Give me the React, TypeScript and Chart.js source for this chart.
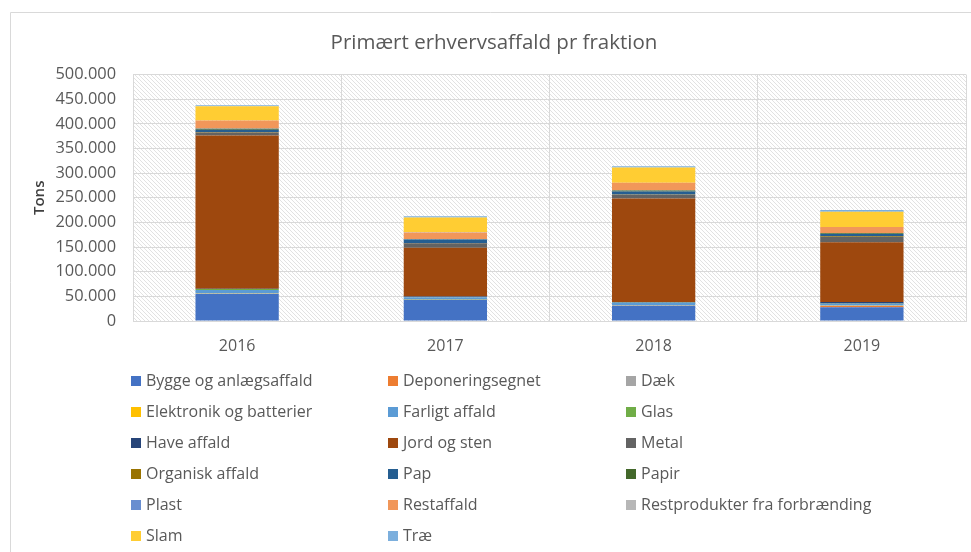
import React, { useEffect, useRef } from "react";
import { Chart, registerables } from "chart.js";

Chart.register(...registerables);

const categories = ["2016", "2017", "2018", "2019"];
const titleText = "Primært erhvervsaffald pr fraktion";
const yTitle = "Tons";
const yTicks = [0, 50000, 100000, 150000, 200000, 250000, 300000, 350000, 400000, 450000, 500000];

const bygge = [55000, 42500, 31000, 27700];
const deponering = [0, 0, 0, 2700];
const daek = [300, 300, 300, 300];
const elektronik = [500, 500, 500, 500];
const farligt = [7000, 5000, 5000, 4000];
const glas = [2000, 500, 500, 500];
const have = [500, 1000, 1500, 3000];
const jord = [311000, 99000, 210000, 121000];
const metal = [6000, 9000, 7500, 11500];
const organisk = [1000, 500, 500, 1500];
const pap = [5000, 7000, 6000, 4000];
const papir = [2000, 500, 2000, 1500];
const plast = [500, 500, 500, 500];
const restaffald = [16000, 13500, 15000, 12000];
const restprodukter = [0, 1000, 0, 0];
const slam = [29000, 29000, 31000, 31000];
const trae = [2000, 3000, 2500, 3500];

const seriesNames = [
  "Bygge og anlægsaffald", "Deponeringsegnet", "Dæk",
  "Elektronik og batterier", "Farligt affald", "Glas",
  "Have affald", "Jord og sten", "Metal",
  "Organisk affald", "Pap", "Papir",
  "Plast", "Restaffald", "Restprodukter fra forbrænding",
  "Slam", "Træ",
];
const seriesValues = [
  bygge, deponering, daek, elektronik, farligt, glas, have, jord, metal,
  organisk, pap, papir, plast, restaffald, restprodukter, slam, trae,
];
const seriesColors = [
  "#4472C4", "#ED7D31", "#A5A5A5", "#FFC000", "#5B9BD5", "#70AD47",
  "#264478", "#9E480E", "#636363", "#997300", "#255E91", "#43682B",
  "#698ED0", "#F1975A", "#B7B7B7", "#FFCD33", "#7CAFDD",
];

const FONT = "'Open Sans', 'Noto Sans', sans-serif";
const TEXT = "#595959";
const GRID = "#d9d9d9";

function fmt(v: number): string {
  const s = Math.round(v).toString();
  return s.replace(/\B(?=(\d{3})+(?!\d))/g, ".");
}

const decorPlugin = {
  id: "decor",
  beforeDraw(chart: any) {
    const { ctx, chartArea } = chart;
    const tile = document.createElement("canvas");
    tile.width = 4;
    tile.height = 4;
    const t = tile.getContext("2d")!;
    t.fillStyle = "#ffffff";
    t.fillRect(0, 0, 4, 4);
    t.fillStyle = "#e2e2e2";
    for (let i = 0; i < 4; i++) t.fillRect(i, i, 1, 1);
    const pat = ctx.createPattern(tile, "repeat");
    ctx.save();
    ctx.fillStyle = pat;
    ctx.fillRect(chartArea.left, chartArea.top, chartArea.right - chartArea.left, chartArea.bottom - chartArea.top);
    ctx.restore();
  },
  afterDraw(chart: any) {
    const { ctx, chartArea } = chart;
    ctx.save();
    ctx.strokeStyle = GRID;
    ctx.lineWidth = 1;
    ctx.beginPath();
    ctx.moveTo(10.5, chart.height);
    ctx.lineTo(10.5, 12.5);
    ctx.lineTo(chart.width, 12.5);
    ctx.stroke();
    const colX = [chartArea.left - 2, chartArea.left + 255, chartArea.left + 493];
    const rowY0 = chartArea.bottom + 60;
    const rowH = 31;
    ctx.font = `16px ${FONT}`;
    ctx.textBaseline = "middle";
    ctx.textAlign = "left";
    seriesNames.forEach((name, i) => {
      const col = i % 3;
      const row = Math.floor(i / 3);
      const x = colX[col];
      const y = rowY0 + row * rowH;
      ctx.fillStyle = seriesColors[i];
      ctx.fillRect(x, y - 5, 10, 10);
      ctx.fillStyle = TEXT;
      ctx.fillText(name, x + 15, y);
    });
    ctx.restore();
  },
};

export default function App() {
  const ref = useRef<HTMLCanvasElement | null>(null);
  useEffect(() => {
    if (!ref.current) return;
    const chart = new Chart(ref.current, {
      type: "bar",
      data: {
        labels: categories,
        datasets: seriesNames.map((name, i) => ({
          label: name,
          data: seriesValues[i],
          backgroundColor: seriesColors[i],
          borderWidth: 0,
          barPercentage: 0.4,
          categoryPercentage: 1.0,
        })),
      },
      options: {
        responsive: true,
        maintainAspectRatio: false,
        animation: false,
        layout: { padding: { left: 22, right: 5, top: 0, bottom: 191 } },
        plugins: {
          legend: { display: false },
          tooltip: { enabled: false },
          title: {
            display: true,
            text: titleText,
            color: TEXT,
            font: { family: FONT, size: 20.5, weight: "normal" },
            padding: { top: 31, bottom: 19 },
          },
        },
        scales: {
          x: {
            stacked: true,
            grid: { color: GRID, drawTicks: false, offset: true },
            border: { color: GRID },
            ticks: { color: TEXT, font: { family: FONT, size: 16 }, padding: 16 },
            afterFit: (s: any) => { s.height = 40; },
          },
          y: {
            stacked: true,
            min: 0,
            max: 500000,
            afterBuildTicks: (s: any) => { s.ticks = yTicks.map((v) => ({ value: v })); },
            grid: { color: GRID, drawTicks: false },
            border: { color: GRID },
            ticks: {
              color: TEXT,
              font: { family: FONT, size: 16.4 },
              padding: 17,
              callback: (v: any) => fmt(Number(v)),
            },
            title: {
              display: true,
              text: yTitle,
              color: "#404040",
              font: { family: FONT, size: 15, weight: "600" },
              padding: { top: 9, bottom: 0 },
            },
            afterFit: (s: any) => { s.width = 111; },
          },
        },
      },
      plugins: [decorPlugin],
    });
    return () => chart.destroy();
  }, []);
  return (
    <div style={{ position: "fixed", left: 0, top: 0, width: 971, height: 552, background: "#fff" }}>
      <canvas ref={ref} />
    </div>
  );
}
